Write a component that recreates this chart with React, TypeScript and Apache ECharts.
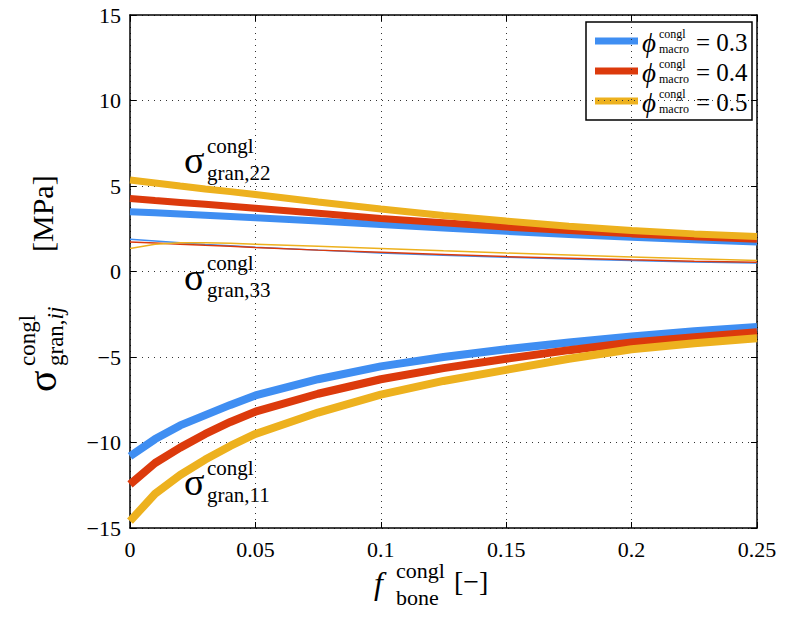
import React, { useEffect, useRef } from "react";
import * as echarts from "echarts";

const fBone = [0, 0.01, 0.02, 0.03, 0.04, 0.05, 0.075, 0.1, 0.125, 0.15, 0.175, 0.2, 0.225, 0.25];
const phiMacro = ["0.3", "0.4", "0.5"];
const colors = ["#3f8ef2", "#dc3a0c", "#edb11e"];

const s11 = [
  [-10.8, -9.8, -9.0, -8.4, -7.8, -7.25, -6.3, -5.55, -5.0, -4.55, -4.15, -3.8, -3.5, -3.25],
  [-12.45, -11.2, -10.3, -9.5, -8.8, -8.2, -7.15, -6.3, -5.65, -5.1, -4.6, -4.15, -3.85, -3.55],
  [-14.6, -13.0, -11.9, -11.0, -10.2, -9.5, -8.25, -7.2, -6.4, -5.75, -5.1, -4.55, -4.2, -3.9],
];
const s22 = [
  [3.5, 3.43, 3.36, 3.29, 3.22, 3.15, 2.95, 2.75, 2.55, 2.35, 2.17, 2.0, 1.85, 1.72],
  [4.27, 4.15, 4.04, 3.93, 3.82, 3.7, 3.4, 3.1, 2.85, 2.6, 2.4, 2.2, 2.03, 1.88],
  [5.35, 5.18, 5.0, 4.83, 4.67, 4.5, 4.07, 3.65, 3.28, 2.95, 2.65, 2.4, 2.2, 2.05],
];
const s33 = [
  [1.88, 1.78, 1.68, 1.58, 1.5, 1.42, 1.25, 1.08, 0.95, 0.83, 0.73, 0.64, 0.56, 0.5],
  [1.72, 1.66, 1.6, 1.53, 1.47, 1.4, 1.25, 1.12, 0.99, 0.87, 0.77, 0.68, 0.6, 0.54],
  [1.35, 1.6, 1.68, 1.68, 1.65, 1.6, 1.48, 1.35, 1.21, 1.08, 0.96, 0.85, 0.74, 0.64],
];

const xTicks = ["0", "0.05", "0.1", "0.15", "0.2", "0.25"];

const SERIF = "Liberation Serif";

function txt(x: number, y: number, text: string, size: number, italic = false, align = "left") {
  return {
    type: "text",
    x,
    y,
    style: {
      text,
      fontFamily: SERIF,
      fontSize: size,
      fontStyle: italic ? "italic" : "normal",
      fill: "#000",
      verticalAlign: "middle",
      align,
    },
  };
}

function sigmaLabel(x: number, y: number, sub: string) {
  return {
    type: "group",
    x,
    y,
    children: [txt(0, 0, "σ", 38), txt(23, -14, "congl", 21), txt(23, 13, "gran," + sub, 21)],
  };
}

export default function App() {
  const ref = useRef<HTMLDivElement>(null);
  useEffect(() => {
    if (!ref.current) return;
    const chart = echarts.init(ref.current, undefined, { renderer: "svg" });
    const series: any[] = [];
    const groups = [
      { data: s22, width: 7 },
      { data: s33, width: 1.5 },
      { data: s11, width: 8 },
    ];
    groups.forEach((g) => {
      g.data.forEach((vals, i) => {
        series.push({
          type: "line",
          name: "phi=" + phiMacro[i],
          data: vals.map((v, k) => [fBone[k], v]),
          showSymbol: false,
          lineStyle: { color: colors[i], width: g.width },
          itemStyle: { color: colors[i] },
          z: 3,
        });
      });
    });

    const legendChildren: any[] = [
      { type: "rect", shape: { x: 0, y: 0, width: 166, height: 98 }, style: { fill: "#fff", stroke: "#000", lineWidth: 1.5 } },
    ];
    phiMacro.forEach((p, i) => {
      const cy = 19 + i * 30;
      legendChildren.push(
        { type: "line", shape: { x1: 9, y1: cy, x2: 52, y2: cy }, style: { stroke: colors[i], lineWidth: 7 } },
        txt(56, cy + 2, "ϕ", 27, true),
        txt(73, cy - 7.5, "congl", 12),
        txt(73, cy + 7.5, "macro", 12),
        txt(110, cy + 1, "= " + p, 25)
      );
    });

    const option: any = {
      animation: false,
      grid: { left: 130, right: 30, top: 15, bottom: 98 },
      xAxis: [
        {
          type: "value",
          min: 0,
          max: 0.25,
          interval: 0.05,
          axisLine: { show: true, onZero: false, lineStyle: { color: "#000", width: 1.5 } },
          axisTick: { show: true, inside: true, length: 6, lineStyle: { color: "#000" } },
          axisLabel: {
            fontFamily: SERIF,
            fontSize: 22,
            color: "#000",
            margin: 10,
            formatter: (v: number) => xTicks[Math.round(v / 0.05)] ?? String(v),
          },
          splitLine: { show: true, lineStyle: { color: "#333", type: [1, 5], width: 1 } },
        },
        {
          type: "value",
          position: "top",
          min: 0,
          max: 0.25,
          interval: 0.05,
          axisLine: { show: true, onZero: false, lineStyle: { color: "#000", width: 1.5 } },
          axisTick: { show: true, inside: true, length: 6, lineStyle: { color: "#000" } },
          axisLabel: { show: false },
          splitLine: { show: false },
        },
      ],
      yAxis: [
        {
          type: "value",
          min: -15,
          max: 15,
          interval: 5,
          axisLine: { show: true, onZero: false, lineStyle: { color: "#000", width: 1.5 } },
          axisTick: { show: true, inside: true, length: 6, lineStyle: { color: "#000" } },
          axisLabel: {
            fontFamily: SERIF,
            fontSize: 22,
            color: "#000",
            margin: 9,
            formatter: (v: number) => String(v).replace("-", "−"),
          },
          splitLine: { show: true, lineStyle: { color: "#333", type: [1, 5], width: 1 } },
        },
        {
          type: "value",
          position: "right",
          min: -15,
          max: 15,
          interval: 5,
          axisLine: { show: true, onZero: false, lineStyle: { color: "#000", width: 1.5 } },
          axisTick: { show: true, inside: true, length: 6, lineStyle: { color: "#000" } },
          axisLabel: { show: false },
          splitLine: { show: false },
        },
      ],
      series,
      graphic: [
        sigmaLabel(184, 160, "22"),
        sigmaLabel(184, 277, "33"),
        sigmaLabel(184, 482, "11"),
        { type: "group", x: 586, y: 22, z: 100, children: legendChildren },
        {
          type: "group",
          x: 374,
          y: 583,
          children: [
            txt(0, 0, "f", 32, true),
            txt(22, -13, "congl", 22),
            txt(22, 14, "bone", 22),
            txt(80, -2, "[−]", 28),
          ],
        },
        {
          type: "group",
          x: 42,
          y: 392,
          rotation: Math.PI / 2,
          children: [
            txt(0, 0, "σ", 40),
            txt(26, -15, "congl", 23),
            {
              type: "text",
              x: 26,
              y: 13,
              style: {
                text: "{n|gran,}{i|ij}",
                fill: "#000",
                verticalAlign: "middle",
                rich: {
                  n: { fontFamily: SERIF, fontSize: 23, fill: "#000" },
                  i: { fontFamily: SERIF, fontSize: 23, fontStyle: "italic", fill: "#000" },
                },
              },
            },
            txt(140, 0, "[MPa]", 30),
          ],
        },
      ],
    };
    chart.setOption(option);
    return () => chart.dispose();
  }, []);
  return <div ref={ref} style={{ width: 787, height: 626, position: "absolute", left: 0, top: 0, background: "#fff" }} />;
}
